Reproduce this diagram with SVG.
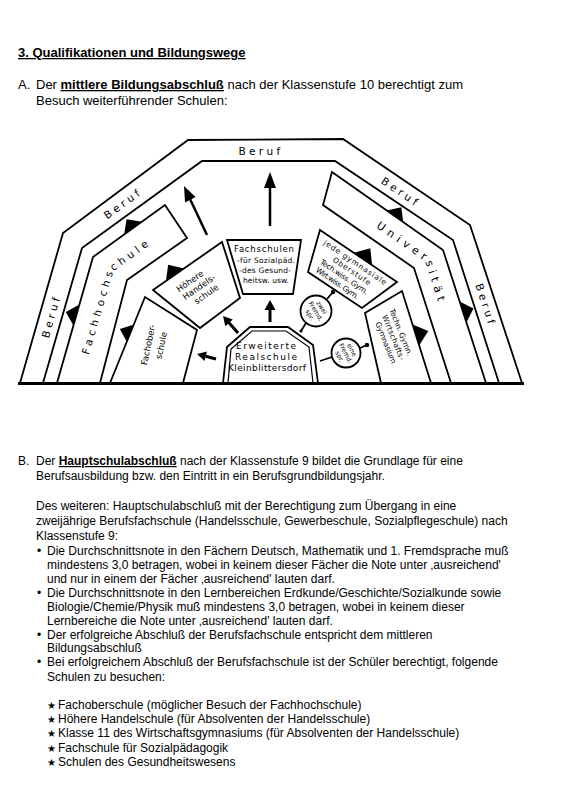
<svg xmlns="http://www.w3.org/2000/svg" width="563" height="804" viewBox="0 0 563 804">
<style>
.t{font-family:"Liberation Sans",Arial,sans-serif;font-size:12px;fill:#000}
.a{font-size:13px}
.b{font-weight:bold}
.u{text-decoration:underline}
.ln{fill:none;stroke:#000;stroke-width:1.8;stroke-linejoin:miter}
.box{fill:none;stroke:#000;stroke-width:1.8}
.tri{fill:#000}
.hw{font-family:"DejaVu Sans",sans-serif;fill:#000;text-anchor:middle;dominant-baseline:central}
.lbl{font-size:10.5px;letter-spacing:3.3px}
.bx{font-size:7.5px}
.sm{font-size:6.3px}
.arr{stroke:#000;stroke-width:2.5;fill:none}
.arr2{stroke:#000;stroke-width:3;fill:none}
.star{font-family:"DejaVu Sans",sans-serif;font-size:10px;fill:#000}
</style>
<rect width="563" height="804" fill="#fff"/>

<g id="heading">
<text class="t a b u" x="18" y="57">3. Qualifikationen und Bildungswege</text>
<text class="t a" x="18" y="89">A.</text>
<text class="t a" x="36" y="89">Der <tspan class="b u">mittlere Bildungsabschluß</tspan> nach der Klassenstufe 10 berechtigt zum</text>
<text class="t a" x="36" y="105">Besuch weiterführender Schulen:</text>
</g>

<g id="diagram">
<g id="beruf">
<polyline class="ln" points="20,383 63,233 188,140 343,139 470,225 522,383"/>
<polyline class="ln" points="43,383 82,248 202,161 335,161 453,240 499,383"/>
<text class="hw lbl" x="261" y="151">Beruf</text>
<text class="hw lbl" transform="translate(123,203) rotate(-36)">Beruf</text>
<text class="hw lbl" transform="translate(51,316) rotate(-74)">Beruf</text>
<text class="hw lbl" transform="translate(401,192) rotate(34)">Beruf</text>
<text class="hw lbl" transform="translate(486,305) rotate(72)">Beruf</text>
</g>

<g id="fachhochschule">
<polyline class="ln" points="57,383 93,257 165,205 187,238 127,280 100,383"/>
<path id="fhp" d="M 85,354 L 110,268.5 L 176,221.5" fill="none"/>
<text class="hw" style="font-size:10.5px;letter-spacing:3.9px;text-anchor:start"><textPath href="#fhp">Fachhochschule</textPath></text>
</g>

<g id="universitaet">
<polyline class="ln" points="486,383 443,250 332,172 323,205 414,268 451,383"/>
<path id="unp" d="M 378,224 L 428.5,259 L 468.5,383" fill="none"/>
<text class="hw" style="font-size:11px;letter-spacing:4.5px;text-anchor:start"><textPath href="#unp">Universität</textPath></text>
</g>

<g id="fachoberschule">
<polyline class="box" points="110,383 145,297 197,330 183,383"/>
<g transform="translate(154,346) rotate(-78)">
<text class="hw" style="font-size:8.5px" x="0" y="-6">Fachober-</text>
<text class="hw" style="font-size:8.5px" x="2" y="7">schule</text>
</g>
</g>

<g id="hoehere-handelsschule">
<polygon class="box" points="153,290 222,242 240,298 200,328"/>
<g transform="translate(199,287) rotate(-35)">
<text class="hw" style="font-size:8.5px" x="-4" y="-10">Höhere</text>
<text class="hw" style="font-size:8.5px" x="0" y="0">Handels-</text>
<text class="hw" style="font-size:8.5px" x="2" y="10">schule</text>
</g>
</g>

<g id="fachschulen">
<polygon class="box" points="227,240 301,240 293,294 243,294"/>
<text class="hw" style="font-size:8.5px" x="264" y="249" textLength="60">Fachschulen</text>
<text class="hw bx" x="266" y="260" textLength="58">-für Sozialpäd.</text>
<text class="hw bx" x="265" y="270" textLength="52">-des Gesund-</text>
<text class="hw bx" x="266" y="280" textLength="46">heitsw. usw.</text>
</g>

<g id="gymnasiale-oberstufe">
<polygon class="box" points="320,230 397,282 362,308 308,272"/>
<g transform="translate(350,270) rotate(34)">
<text class="hw bx" x="0" y="-9" textLength="74">jede gymnasiale</text>
<text class="hw bx" x="2" y="0" textLength="44">Oberstufe</text>
<text class="hw bx" x="-1" y="9" textLength="56">Tech.wiss. Gym.</text>
<text class="hw bx" x="-3" y="18" textLength="50">Wirt.wiss. Gym.</text>
</g>
</g>

<g id="techn-gymnasium">
<polyline class="box" points="381,383 365,313 402,291 431,383"/>
<g transform="translate(397,336) rotate(68)">
<text class="hw bx" x="-2" y="-5" textLength="50">Techn. Gymn.</text>
<text class="hw bx" x="0" y="4" textLength="48">Wirtschafts-</text>
<text class="hw bx" x="2" y="13" textLength="44">Gymnasium</text>
</g>
</g>

<g id="realschule">
<polyline class="box" points="223,383 227,347 250,327 288,327 313,345 318,383"/>
<polyline class="box" style="stroke-width:1.2" points="228,383 231,349 252,331 286,331 309,347 313,383"/>
<text class="hw" style="font-size:9px" x="266" y="346" textLength="60">Erweiterte</text>
<text class="hw" style="font-size:9px" x="266" y="357" textLength="62">Realschule</text>
<text class="hw" style="font-size:9px" x="267" y="368" textLength="78">Kleinblittersdorf</text>
</g>

<g id="zwei-fremdsprachen">
<circle class="box" cx="316" cy="311" r="15.5"/>
<g transform="translate(316,311) rotate(58)">
<text class="hw sm" x="0" y="-7">zwei</text>
<text class="hw sm" x="0" y="0">Fremd.</text>
<text class="hw sm" x="0" y="7">spr.</text>
</g>
</g>

<g id="eine-fremdsprache">
<circle class="box" cx="346" cy="353" r="14.5"/>
<g transform="translate(346,353) rotate(62)">
<text class="hw sm" x="0" y="-7">eine</text>
<text class="hw sm" x="0" y="0">Fremd.</text>
<text class="hw sm" x="0" y="7">spr.</text>
</g>
</g>

<line x1="18" y1="383.5" x2="524" y2="383.5" stroke="#000" stroke-width="3"/>
</g>

<g id="connectors">
<polygon class="tri" points="79.4,304.4 73.4,325.6 65.8,312"/>
<polygon class="tri" points="141.9,221.7 124.1,234.5 126.6,219.2"/>
<polygon class="tri" points="133.4,324.7 126.6,341.3 119.8,328.9"/>
<polygon class="tri" points="184,268.4 166,281 168.1,264.8"/>
<polygon class="tri" points="403.2,222.1 386.8,210.5 401.3,207.3"/>
<polygon class="tri" points="372.1,265.2 353.9,252.8 370.3,248.2"/>
<polygon class="tri" points="466.4,322.5 459.6,301.5 473.5,308.6"/>
<polygon class="tri" points="419.2,345.5 412.6,324.5 428.3,331.1"/>
<line class="arr" x1="270" y1="226" x2="270" y2="186"/>
<polygon class="tri" points="270,172 264,188 276,188"/>
<line class="arr" x1="207" y1="235" x2="190" y2="199"/>
<polygon class="tri" points="184,186 195.5,197 185,202.5"/>
<line class="arr2" x1="270" y1="322" x2="270" y2="309"/>
<polygon class="tri" points="270,300 264.5,310 275.5,310"/>
<line class="arr2" x1="238" y1="333" x2="229" y2="322.8"/>
<polygon class="tri" points="223,316 232.8,319.5 225.3,326.2"/>
<line class="arr2" x1="216" y1="359" x2="205.7" y2="356.3"/>
<polygon class="tri" points="197,354 207,351.5 204.5,361"/>
<line class="ln" x1="327" y1="299" x2="333" y2="292"/>
<circle cx="333" cy="292" r="2.2" fill="#000"/>
<line class="ln" x1="306" y1="323" x2="301" y2="331"/>
<circle cx="301" cy="331" r="1.6" fill="#000"/>
<line class="ln" x1="332" y1="357" x2="320" y2="361"/>
<line class="ln" x1="360" y1="348" x2="367" y2="345"/>
<circle cx="367" cy="345" r="2.2" fill="#000"/>
</g>

<g id="section-b">
<text class="t" x="18" y="465">B.</text>
<text class="t" x="36" y="465">Der <tspan class="b u">Hauptschulabschluß</tspan> nach der Klassenstufe 9 bildet die Grundlage für eine</text>
<text class="t" x="36" y="480">Berufsausbildung bzw. den Eintritt in ein Berufsgrundbildungsjahr.</text>
<text class="t" x="36" y="510">Des weiteren: Hauptschulabschluß mit der Berechtigung zum Übergang in eine</text>
<text class="t" x="36" y="525">zweijährige Berufsfachschule (Handelsschule, Gewerbeschule, Sozialpflegeschule) nach</text>
<text class="t" x="36" y="540">Klassenstufe 9:</text>
<text class="t" x="37" y="555">•</text>
<text class="t" x="47" y="555">Die Durchschnittsnote in den Fächern Deutsch, Mathematik und 1. Fremdsprache muß</text>
<text class="t" x="47" y="569">mindestens 3,0 betragen, wobei in keinem dieser Fächer die Note unter ‚ausreichend'</text>
<text class="t" x="47" y="583">und nur in einem der Fächer ‚ausreichend' lauten darf.</text>
<text class="t" x="37" y="597">•</text>
<text class="t" x="47" y="597">Die Durchschnittsnote in den Lernbereichen Erdkunde/Geschichte/Sozialkunde sowie</text>
<text class="t" x="47" y="611">Biologie/Chemie/Physik muß mindestens 3,0 betragen, wobei in keinem dieser</text>
<text class="t" x="47" y="625">Lernbereiche die Note unter ‚ausreichend' lauten darf.</text>
<text class="t" x="37" y="639">•</text>
<text class="t" x="47" y="639">Der erfolgreiche Abschluß der Berufsfachschule entspricht dem mittleren</text>
<text class="t" x="47" y="652">Bildungsabschluß</text>
<text class="t" x="37" y="666">•</text>
<text class="t" x="47" y="666">Bei erfolgreichem Abschluß der Berufsfachschule ist der Schüler berechtigt, folgende</text>
<text class="t" x="47" y="681">Schulen zu besuchen:</text>
<text class="star" x="47" y="709">★</text>
<text class="t" x="58" y="709">Fachoberschule (möglicher Besuch der Fachhochschule)</text>
<text class="star" x="47" y="723">★</text>
<text class="t" x="58" y="723">Höhere Handelschule (für Absolventen der Handelsschule)</text>
<text class="star" x="47" y="737">★</text>
<text class="t" x="58" y="737">Klasse 11 des Wirtschaftsgymnasiums (für Absolventen der Handelsschule)</text>
<text class="star" x="47" y="752">★</text>
<text class="t" x="58" y="752">Fachschule für Sozialpädagogik</text>
<text class="star" x="47" y="766">★</text>
<text class="t" x="58" y="766">Schulen des Gesundheitswesens</text>
</g>
</svg>
